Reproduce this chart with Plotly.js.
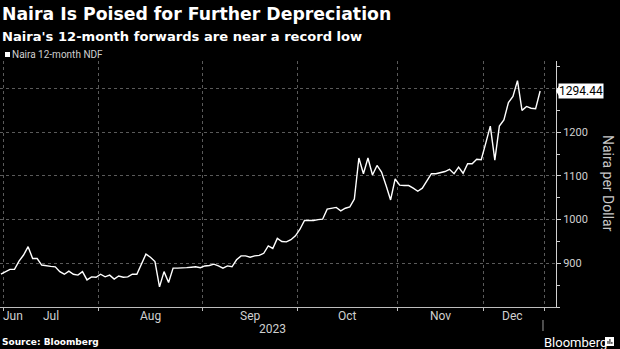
<!DOCTYPE html>
<html>
<head>
<meta charset="utf-8">
<script src="https://cdn.plot.ly/plotly-3.0.1.min.js"></script>
<style>
  html, body { margin: 0; padding: 0; background: #000; }
  #chart { width: 620px; height: 349px; }
</style>
</head>
<body>
<div id="chart"></div>
<script>
// ---- Data ----
const dates = [
  '2023-06-30',
  '2023-07-03','2023-07-04','2023-07-05','2023-07-06','2023-07-07',
  '2023-07-10','2023-07-11','2023-07-12','2023-07-13','2023-07-14',
  '2023-07-17','2023-07-18','2023-07-19','2023-07-20','2023-07-21',
  '2023-07-24','2023-07-25','2023-07-26','2023-07-27','2023-07-28','2023-07-31',
  '2023-08-01','2023-08-02','2023-08-03','2023-08-04',
  '2023-08-07','2023-08-08','2023-08-09','2023-08-10','2023-08-11',
  '2023-08-14','2023-08-15','2023-08-16','2023-08-17','2023-08-18',
  '2023-08-21','2023-08-22','2023-08-23','2023-08-24','2023-08-25',
  '2023-08-28','2023-08-29','2023-08-30','2023-08-31',
  '2023-09-01',
  '2023-09-04','2023-09-05','2023-09-06','2023-09-07','2023-09-08',
  '2023-09-11','2023-09-12','2023-09-13','2023-09-14','2023-09-15',
  '2023-09-18','2023-09-19','2023-09-20','2023-09-21','2023-09-22',
  '2023-09-25','2023-09-26','2023-09-27','2023-09-28','2023-09-29',
  '2023-10-02','2023-10-03','2023-10-04','2023-10-05','2023-10-06',
  '2023-10-09','2023-10-10','2023-10-11','2023-10-12','2023-10-13',
  '2023-10-16','2023-10-17','2023-10-18','2023-10-19','2023-10-20',
  '2023-10-23','2023-10-24','2023-10-25','2023-10-26','2023-10-27',
  '2023-10-30','2023-10-31',
  '2023-11-01','2023-11-02','2023-11-03',
  '2023-11-06','2023-11-07','2023-11-08','2023-11-09',
  '2023-11-13','2023-11-14','2023-11-15','2023-11-16','2023-11-17',
  '2023-11-20','2023-11-21','2023-11-22',
  '2023-11-27','2023-11-28','2023-11-29','2023-11-30',
  '2023-12-01',
  '2023-12-04','2023-12-05','2023-12-06','2023-12-07','2023-12-08',
  '2023-12-11','2023-12-12','2023-12-13','2023-12-14','2023-12-15',
  '2023-12-18','2023-12-19'
];

const ndf = [
  875, 880, 886, 886, 905, 919, 938, 911, 911, 896, 894, 893, 892, 881, 875, 882, 875, 873, 881, 862, 869, 868,
  875, 869, 873, 864, 871, 868, 869, 875, 875, 900, 921, 914, 904, 846, 881, 856, 889, 889, 889, 890, 891, 892, 890,
  894, 895, 898, 894, 889, 894, 892, 908, 917, 917, 914, 917, 918, 923, 940, 934, 957, 950, 949, 954, 963,
  978, 998, 998, 998, 1000, 1001, 1024, 1026, 1028, 1020, 1026, 1029, 1047, 1141, 1105, 1141, 1102, 1124, 1109, 1078, 1045, 1093,
  1079, 1078, 1078, 1072, 1065, 1072, 1088, 1105, 1105, 1107, 1110, 1115, 1105, 1120, 1106, 1128, 1128, 1138, 1137,
  1175, 1214, 1136, 1214, 1228, 1268, 1282, 1318, 1250, 1259, 1255, 1254, 1294.44
];

const monthLabels = ['Jan','Feb','Mar','Apr','May','Jun','Jul','Aug','Sep','Oct','Nov','Dec'];
const yearLabel = '2023';
const yTickVals = [900, 1000, 1100, 1200, 1300];
const yTickText = ['900', '1000', '1100', '1200', ''];

const titleText = 'Naira Is Poised for Further Depreciation';
const subtitleText = "Naira's 12-month forwards are near a record low";
const seriesName = 'Naira 12-month NDF';
const yTitle = 'Naira per Dollar';
const sourceText = 'Source: Bloomberg';

// ---- Derived positions (trading-day index axis, like the Bloomberg terminal) ----
const idx = dates.map((d, i) => i);
const xRange = [-0.2, 122.5];

const months = [];
dates.forEach((d, i) => {
  const m = parseInt(d.slice(5, 7), 10);
  if (!months.length || months[months.length - 1].m !== m) months.push({ m: m, first: i, last: i });
  else months[months.length - 1].last = i;
});
const boundaries = months.slice(1).map(o => o.first - 0.5);
boundaries.push(dates.length); // end-of-data gridline

const FONT = 'Roboto, "Liberation Sans", Arial, sans-serif';
const BOLD = '"DejaVu Sans", Verdana, sans-serif';
const annotations = [];

months.forEach((o, k) => {
  const lo = Math.max(o.first - 0.5, xRange[0]);
  const hi = o.last + 0.5;
  const first = k === 0;
  annotations.push({
    x: first ? xRange[0] : (lo + hi) / 2, xref: 'x',
    y: 0, yref: 'paper', yanchor: 'top', yshift: 0,
    xanchor: first ? 'left' : 'center', xshift: first ? 1 : 0,
    text: monthLabels[o.m - 1], showarrow: false,
    font: { family: FONT, size: 12, color: '#d0d0d0' }
  });
});
annotations.push({
  x: 0.49, xref: 'paper', y: 0, yref: 'paper', yanchor: 'top', yshift: -13,
  text: yearLabel, showarrow: false, font: { family: FONT, size: 12, color: '#d0d0d0' }
});

// titles
annotations.push({
  x: 0, xref: 'paper', xanchor: 'left', xshift: 0,
  y: 1, yref: 'paper', yanchor: 'bottom', yshift: 35,
  text: titleText, showarrow: false,
  font: { family: BOLD, size: 17.3, color: '#ffffff', weight: 700 }
});
annotations.push({
  x: 0, xref: 'paper', xanchor: 'left', xshift: 0,
  y: 1, yref: 'paper', yanchor: 'bottom', yshift: 15,
  text: subtitleText, showarrow: false,
  font: { family: BOLD, size: 13.1, color: '#ffffff', weight: 700 }
});
// legend
annotations.push({
  x: 0, xref: 'paper', xanchor: 'left', xshift: 10,
  y: 1, yref: 'paper', yanchor: 'middle', yshift: 7,
  text: seriesName, showarrow: false,
  font: { family: FONT, size: 10, color: '#d0d0d0' }
});
// y title (reads top to bottom)
annotations.push({
  x: 1.1007, xref: 'paper', xshift: 6, y: 0.5, yref: 'paper',
  text: yTitle, textangle: 90, showarrow: false,
  font: { family: FONT, size: 14, color: '#c8c8c8' }
});
// last value tag
const lastVal = ndf[ndf.length - 1];
annotations.push({
  x: 1, xref: 'paper', xanchor: 'left', xshift: 2,
  y: lastVal, yref: 'y', yanchor: 'middle',
  text: lastVal.toFixed(2), showarrow: false,
  bgcolor: '#ffffff', borderpad: 0,
  font: { family: FONT, size: 12, color: '#000000' }
});
// source & logo
annotations.push({
  x: 0, xref: 'paper', xanchor: 'left', xshift: 0,
  y: 0, yref: 'paper', yanchor: 'middle', yshift: -35,
  text: sourceText, showarrow: false,
  font: { family: BOLD, size: 9, color: '#ffffff', weight: 700 }
});
annotations.push({
  x: 0.9766, xref: 'paper', xanchor: 'left', xshift: -1,
  y: 0, yref: 'paper', yanchor: 'middle', yshift: -35,
  text: 'Bloomberg', showarrow: false,
  font: { family: FONT, size: 13, color: '#ffffff' }
});

const shapes = [
  { type: 'rect', xref: 'paper', yref: 'paper', xsizemode: 'pixel', ysizemode: 'pixel',
    xanchor: 0, yanchor: 1, x0: 5, x1: 10, y0: 4, y1: 9,
    fillcolor: '#ffffff', line: { width: 0 } },
  { type: 'path', xref: 'paper', yref: 'y', xsizemode: 'pixel', ysizemode: 'pixel',
    xanchor: 1, yanchor: lastVal, path: 'M 0 0 L 3 5 L 3 -5 Z',
    fillcolor: '#ffffff', line: { width: 0 } },
  { type: 'line', xref: 'paper', yref: 'paper', x0: 0.9766, x1: 0.9766, y0: -0.0528, y1: -0.0976,
    line: { color: '#9a9a9a', width: 1 } },
  { type: 'rect', xref: 'paper', yref: 'paper', x0: 1.0881, x1: 1.1043, y0: -0.1585, y1: -0.122,
    fillcolor: '#ffffff', line: { width: 0 } },
  { type: 'line', xref: 'paper', yref: 'paper', x0: 1.0935, x1: 1.0935, y0: -0.150, y1: -0.138, line: { color: '#000', width: 1 } },
  { type: 'line', xref: 'paper', yref: 'paper', x0: 1.0970, x1: 1.0970, y0: -0.150, y1: -0.130, line: { color: '#000', width: 1 } },
  { type: 'line', xref: 'paper', yref: 'paper', x0: 1.1005, x1: 1.1005, y0: -0.150, y1: -0.142, line: { color: '#000', width: 1 } }
];

const trace = {
  x: idx, y: ndf, text: dates, type: 'scatter', mode: 'lines', name: seriesName,
  line: { color: '#ffffff', width: 1.4 },
  hovertemplate: '%{text}: %{y}<extra></extra>'
};

const layout = {
  width: 620, height: 349,
  paper_bgcolor: '#000000', plot_bgcolor: '#000000',
  margin: { l: 0, r: 64, t: 61, b: 42 },
  showlegend: false,
  font: { family: FONT, color: '#d0d0d0' },
  xaxis: {
    type: 'linear', range: xRange, fixedrange: true,
    tickmode: 'array', tickvals: boundaries, ticktext: boundaries.map(() => ''),
    showgrid: true, gridcolor: '#5a5a5a', griddash: 'dot', gridwidth: 1,
    showline: true, linecolor: '#bdbdbd', linewidth: 1,
    ticks: 'outside', ticklen: 3, tickcolor: '#bdbdbd',
    zeroline: false
  },
  yaxis: {
    side: 'right', range: [800, 1363], fixedrange: true,
    tickmode: 'array', tickvals: yTickVals, ticktext: yTickText,
    showgrid: true, gridcolor: '#5a5a5a', griddash: 'dot', gridwidth: 1,
    showline: true, linecolor: '#d0d0d0', linewidth: 1,
    ticks: 'outside', ticklen: 4, tickcolor: '#d0d0d0',
    minor: { dtick: 50, tick0: 800, ticks: 'outside', ticklen: 3, tickcolor: '#d0d0d0', showgrid: false },
    tickfont: { family: FONT, size: 11, color: '#d0d0d0' },
    zeroline: false
  },
  annotations: annotations,
  shapes: shapes
};

Plotly.newPlot('chart', [trace], layout, { displayModeBar: false, staticPlot: true });
</script>
</body>
</html>
